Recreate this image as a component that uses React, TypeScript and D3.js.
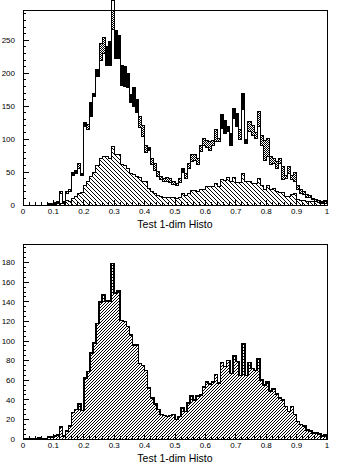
import React, { useEffect } from 'react';
import * as d3 from 'd3';

// 100 bins on [0,1]
const nBins = 100;

// upper pad: lower hatched histogram
const topLow = [
  0, 0, 0, 0, 0, 0, 0, 0, 0, 1,
  1, 4, 2, 3, 7, 5, 10, 13, 17, 19,
  30, 35, 43, 50, 60, 70, 73, 73, 71, 89,
  76, 76, 61, 60, 56, 48, 47, 43, 41, 35,
  36, 25, 20, 17, 14, 13, 11, 11, 12, 12,
  10, 11, 17, 14, 18, 22, 22, 20, 23, 24,
  28, 28, 28, 32, 28, 39, 37, 41, 35, 42,
  34, 34, 48, 35, 35, 33, 33, 40, 29, 23,
  29, 23, 25, 21, 19, 19, 13, 13, 16, 18,
  9, 7, 7, 5, 5, 5, 5, 4, 4, 7,
];

// upper pad: the two summed histograms
const topA = [
  0, 0, 0, 0, 0, 0, 0, 0, 1, 1,
  2, 5, 20, 5, 20, 23, 45, 48, 63, 45,
  119, 122, 135, 165, 195, 245, 255, 212, 212, 311,
  223, 222, 182, 180, 178, 155, 150, 140, 134, 120,
  91, 82, 70, 63, 51, 43, 40, 42, 40, 35,
  32, 40, 50, 48, 63, 77, 77, 71, 91, 101,
  98, 96, 98, 115, 101, 116, 109, 111, 91, 132,
  119, 114, 145, 94, 126, 120, 110, 142, 106, 98,
  101, 73, 71, 66, 71, 58, 45, 58, 45, 50,
  30, 23, 20, 16, 14, 10, 8, 7, 6, 5,
];

const topB = [
  0, 0, 0, 0, 0, 0, 0, 0, 2, 2,
  4, 3, 18, 4, 18, 20, 50, 52, 55, 48,
  125, 115, 155, 170, 205, 220, 230, 240, 248, 267,
  265, 258, 212, 210, 200, 167, 178, 160, 118, 104,
  80, 88, 62, 53, 43, 38, 35, 36, 34, 31,
  29, 34, 55, 40, 56, 66, 68, 62, 81, 91,
  88, 83, 91, 96, 96, 137, 129, 119, 109, 147,
  139, 99, 170, 100, 111, 105, 101, 119, 91, 68,
  73, 61, 63, 56, 63, 38, 40, 48, 38, 36,
  23, 18, 16, 12, 11, 8, 5, 4, 3, 2,
];

// lower pad histogram
const bottomHist = [
  0, 0, 0, 0, 0, 1, 0, 0, 2, 2,
  3, 4, 12, 3, 8, 13, 27, 30, 36, 29,
  62, 69, 88, 98, 118, 140, 147, 141, 141, 179,
  149, 151, 121, 120, 115, 106, 96, 96, 77, 75,
  70, 52, 42, 36, 30, 25, 24, 23, 24, 25,
  20, 23, 32, 28, 37, 44, 40, 44, 45, 53,
  58, 56, 58, 66, 57, 78, 74, 80, 67, 85,
  79, 65, 97, 65, 78, 72, 70, 82, 60, 55,
  58, 49, 51, 46, 42, 40, 33, 28, 33, 25,
  18, 15, 13, 9, 8, 6, 6, 5, 3, 4,
];

const xTicks = [0, 0.1, 0.2, 0.3, 0.4, 0.5, 0.6, 0.7, 0.8, 0.9, 1];
const xTickLabels = ['0', '0.1', '0.2', '0.3', '0.4', '0.5', '0.6', '0.7', '0.8', '0.9', '1'];
const topYTicks = [0, 50, 100, 150, 200, 250];
const bottomYTicks = [0, 20, 40, 60, 80, 100, 120, 140, 160, 180];
const axisTitle = 'Test 1-dim Histo';

const font = "'Liberation Sans', Arial, sans-serif";
const x = d3.scaleLinear().domain([0, 1]).range([23, 327]);

const stepPts = (vals: number[]): [number, number][] => {
  const pts: [number, number][] = [[0, 0]];
  vals.forEach((v, i) => pts.push([i / nBins, v]));
  pts.push([1, vals[vals.length - 1]]);
  pts.push([1, 0]);
  return pts;
};

interface PanelProps {
  top: number;
  yMax: number;
  yTicks: number[];
  yMinor: number;
  id: string;
  children: (y: d3.ScaleLinear<number, number>) => React.ReactNode;
}

const Panel = ({ top, yMax, yTicks, yMinor, id, children }: PanelProps) => {
  const h = 195;
  const y = d3.scaleLinear().domain([0, yMax]).range([top + h, top]);
  const x0 = x(0);
  const minorY = d3.range(0, yMax, yMinor);
  const minorX = d3.range(0, 1.0001, 0.02);
  return (
    <g>
      <clipPath id={id}>
        <rect x={x0} y={top} width={x(1) - x0} height={h} />
      </clipPath>
      {children(y)}
      <rect x={x0} y={top} width={x(1) - x0} height={h} fill="none" stroke="#000" strokeWidth={1} />
      {minorY.map((v) => (
        <line key={'ym' + v} x1={x0} x2={x0 + 3} y1={y(v)} y2={y(v)} stroke="#000" />
      ))}
      {yTicks.map((v) => (
        <g key={'y' + v}>
          <line x1={x0} x2={x0 + 6} y1={y(v)} y2={y(v)} stroke="#000" />
          <text x={15} y={y(v)} dy="0.35em" textAnchor="end" fontSize={8} fontFamily={font}>{v}</text>
        </g>
      ))}
      {minorX.map((v) => (
        <line key={'xm' + v} x1={x(v)} x2={x(v)} y1={top + h} y2={top + h - 3} stroke="#000" />
      ))}
      {xTicks.map((v, i) => (
        <g key={'x' + v}>
          <line x1={x(v)} x2={x(v)} y1={top + h} y2={top + h - 5} stroke="#000" />
          <text x={x(v)} y={top + h + 9} textAnchor="middle" fontSize={8} fontFamily={font}>{xTickLabels[i]}</text>
        </g>
      ))}
      <text x={(x(0) + x(1)) / 2} y={top + h + 22.5} textAnchor="middle" fontSize={10.5} fontFamily={font}>{axisTitle}</text>
    </g>
  );
};

const App = () => {
  useEffect(() => {
    document.body.style.margin = '0';
  }, []);

  const line = (y: d3.ScaleLinear<number, number>) =>
    d3.line<[number, number]>().x((d) => x(d[0])).y((d) => y(d[1])).curve(d3.curveStepAfter);
  const area = (y: d3.ScaleLinear<number, number>) =>
    d3.area<[number, number]>().x((d) => x(d[0])).y0(y(0)).y1((d) => y(d[1])).curve(d3.curveStepAfter);

  return (
    <svg width={352} height={470} style={{ display: 'block', background: '#fff' }} shapeRendering="crispEdges">
      <defs>
        <pattern id="hatchBack" width={4} height={4} patternUnits="userSpaceOnUse">
          {d3.range(4).map((k) => <rect key={k} x={k} y={k} width={1} height={1} fill="#000" />)}
        </pattern>
        <pattern id="hatchFwd" width={3} height={3} patternUnits="userSpaceOnUse">
          {d3.range(3).map((k) => <rect key={k} x={2 - k} y={k} width={1} height={1} fill="#000" />)}
        </pattern>
        <pattern id="checker" width={2} height={2} patternUnits="userSpaceOnUse">
          <rect x={0} y={0} width={1} height={1} fill="#000" />
          <rect x={1} y={1} width={1} height={1} fill="#000" />
        </pattern>
      </defs>

      <Panel top={10} yMax={296} yTicks={topYTicks} yMinor={10} id="clipTop">
        {(y) => (
          <g>
            <path d={area(y)(stepPts(topLow)) || ''} fill="url(#hatchBack)" />
            <path d={line(y)(stepPts(topLow)) || ''} fill="none" stroke="#000" strokeWidth={1} />
            <g clipPath="url(#clipTop)">
              {topA.map((a, i) => {
                const b = topB[i];
                if (a === b) return null;
                const lo = Math.min(a, b);
                const hi = Math.max(a, b);
                return (
                  <rect
                    key={i}
                    x={x(i / nBins)}
                    width={x((i + 1) / nBins) - x(i / nBins)}
                    y={y(hi)}
                    height={y(lo) - y(hi)}
                    fill={b > a ? '#000' : 'url(#checker)'}
                  />
                );
              })}
            </g>
            <path d={line(y)(stepPts(topA)) || ''} fill="none" stroke="#000" strokeWidth={1} />
            <path d={line(y)(stepPts(topB)) || ''} fill="none" stroke="#000" strokeWidth={1} />
          </g>
        )}
      </Panel>

      <Panel top={244} yMax={199} yTicks={bottomYTicks} yMinor={5} id="clipBottom">
        {(y) => (
          <g>
            <path d={area(y)(stepPts(bottomHist)) || ''} fill="url(#hatchFwd)" />
            <path d={line(y)(stepPts(bottomHist)) || ''} fill="none" stroke="#000" strokeWidth={1.6} />
          </g>
        )}
      </Panel>
    </svg>
  );
};

export default App;
